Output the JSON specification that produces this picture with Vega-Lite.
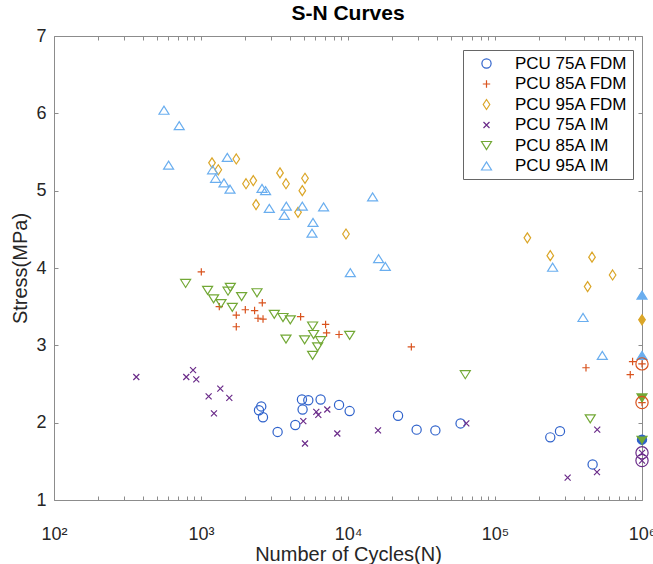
{
  "$schema": "https://vega.github.io/schema/vega-lite/v6.json",
  "autosize": {"type": "none"},
  "width": 588,
  "height": 464,
  "padding": {"left": 54, "top": 36, "right": 11, "bottom": 64},
  "background": "white",
  "title": {"text": "S-N Curves", "fontSize": 21, "fontWeight": "bold", "font": "Liberation Sans", "color": "#000000", "offset": 3, "anchor": "middle"},
  "config": {
    "view": {"stroke": null},
    "font": "Liberation Sans",
    "axis": {
      "domainColor": "#8c8c8c", "tickColor": "#8c8c8c", "labelColor": "#262626", "titleColor": "#262626",
      "labelFont": "Liberation Sans", "titleFont": "Liberation Sans", "labelFontSize": 18, "titleFontSize": 20,
      "titleFontWeight": "normal", "grid": false, "tickSize": -4, "domainWidth": 1, "tickWidth": 1
    }
  },
  "data": {"values": [
    {"s":"PCU 75A FDM","n":2570,"v":2.21,"r":0},
    {"s":"PCU 75A FDM","n":2480,"v":2.16,"r":0},
    {"s":"PCU 75A FDM","n":2640,"v":2.07,"r":0},
    {"s":"PCU 75A FDM","n":3320,"v":1.88,"r":0},
    {"s":"PCU 75A FDM","n":4380,"v":1.97,"r":0},
    {"s":"PCU 75A FDM","n":4860,"v":2.30,"r":0},
    {"s":"PCU 75A FDM","n":4910,"v":2.17,"r":0},
    {"s":"PCU 75A FDM","n":5370,"v":2.29,"r":0},
    {"s":"PCU 75A FDM","n":6510,"v":2.30,"r":0},
    {"s":"PCU 75A FDM","n":8690,"v":2.23,"r":0},
    {"s":"PCU 75A FDM","n":10260,"v":2.15,"r":0},
    {"s":"PCU 75A FDM","n":21900,"v":2.09,"r":0},
    {"s":"PCU 75A FDM","n":29300,"v":1.91,"r":0},
    {"s":"PCU 75A FDM","n":39300,"v":1.90,"r":0},
    {"s":"PCU 75A FDM","n":58300,"v":1.99,"r":0},
    {"s":"PCU 75A FDM","n":237700,"v":1.81,"r":0},
    {"s":"PCU 75A FDM","n":276700,"v":1.89,"r":0},
    {"s":"PCU 75A FDM","n":461300,"v":1.46,"r":0},
    {"s":"PCU 75A FDM","n":1000000,"v":1.78,"r":1},
    {"s":"PCU 85A FDM","n":1005,"v":3.95,"r":0},
    {"s":"PCU 85A FDM","n":1332,"v":3.50,"r":0},
    {"s":"PCU 85A FDM","n":1738,"v":3.39,"r":0},
    {"s":"PCU 85A FDM","n":1738,"v":3.24,"r":0},
    {"s":"PCU 85A FDM","n":2002,"v":3.46,"r":0},
    {"s":"PCU 85A FDM","n":2315,"v":3.45,"r":0},
    {"s":"PCU 85A FDM","n":2442,"v":3.35,"r":0},
    {"s":"PCU 85A FDM","n":2612,"v":3.55,"r":0},
    {"s":"PCU 85A FDM","n":2642,"v":3.34,"r":0},
    {"s":"PCU 85A FDM","n":4760,"v":3.37,"r":0},
    {"s":"PCU 85A FDM","n":7040,"v":3.27,"r":0},
    {"s":"PCU 85A FDM","n":7150,"v":3.16,"r":0},
    {"s":"PCU 85A FDM","n":8690,"v":3.14,"r":0},
    {"s":"PCU 85A FDM","n":26970,"v":2.98,"r":0},
    {"s":"PCU 85A FDM","n":415900,"v":2.71,"r":0},
    {"s":"PCU 85A FDM","n":832000,"v":2.62,"r":0},
    {"s":"PCU 85A FDM","n":863000,"v":2.79,"r":0},
    {"s":"PCU 85A FDM","n":1000000,"v":2.76,"r":1},
    {"s":"PCU 85A FDM","n":1000000,"v":2.26,"r":1},
    {"s":"PCU 95A FDM","n":1188,"v":5.36,"r":0},
    {"s":"PCU 95A FDM","n":1311,"v":5.27,"r":0},
    {"s":"PCU 95A FDM","n":1738,"v":5.41,"r":0},
    {"s":"PCU 95A FDM","n":2024,"v":5.09,"r":0},
    {"s":"PCU 95A FDM","n":2268,"v":5.13,"r":0},
    {"s":"PCU 95A FDM","n":2368,"v":4.82,"r":0},
    {"s":"PCU 95A FDM","n":3447,"v":5.23,"r":0},
    {"s":"PCU 95A FDM","n":3786,"v":5.09,"r":0},
    {"s":"PCU 95A FDM","n":5099,"v":5.16,"r":0},
    {"s":"PCU 95A FDM","n":4888,"v":5.00,"r":0},
    {"s":"PCU 95A FDM","n":4570,"v":4.72,"r":0},
    {"s":"PCU 95A FDM","n":9690,"v":4.44,"r":0},
    {"s":"PCU 95A FDM","n":166000,"v":4.39,"r":0},
    {"s":"PCU 95A FDM","n":237700,"v":4.16,"r":0},
    {"s":"PCU 95A FDM","n":457000,"v":4.14,"r":0},
    {"s":"PCU 95A FDM","n":631000,"v":3.91,"r":0},
    {"s":"PCU 95A FDM","n":426600,"v":3.76,"r":0},
    {"s":"PCU 95A FDM","n":1000000,"v":3.33,"r":1},
    {"s":"PCU 75A IM","n":363,"v":2.59,"r":0},
    {"s":"PCU 75A IM","n":794,"v":2.59,"r":0},
    {"s":"PCU 75A IM","n":883,"v":2.68,"r":0},
    {"s":"PCU 75A IM","n":929,"v":2.56,"r":0},
    {"s":"PCU 75A IM","n":1127,"v":2.34,"r":0},
    {"s":"PCU 75A IM","n":1225,"v":2.12,"r":0},
    {"s":"PCU 75A IM","n":1353,"v":2.44,"r":0},
    {"s":"PCU 75A IM","n":1558,"v":2.32,"r":0},
    {"s":"PCU 75A IM","n":4966,"v":2.02,"r":0},
    {"s":"PCU 75A IM","n":5099,"v":1.73,"r":0},
    {"s":"PCU 75A IM","n":6087,"v":2.14,"r":0},
    {"s":"PCU 75A IM","n":6281,"v":2.10,"r":0},
    {"s":"PCU 75A IM","n":7230,"v":2.17,"r":0},
    {"s":"PCU 75A IM","n":8459,"v":1.86,"r":0},
    {"s":"PCU 75A IM","n":16000,"v":1.90,"r":0},
    {"s":"PCU 75A IM","n":63800,"v":1.99,"r":0},
    {"s":"PCU 75A IM","n":496000,"v":1.91,"r":0},
    {"s":"PCU 75A IM","n":312000,"v":1.29,"r":0},
    {"s":"PCU 75A IM","n":494000,"v":1.36,"r":0},
    {"s":"PCU 75A IM","n":1000000,"v":1.61,"r":1},
    {"s":"PCU 75A IM","n":1000000,"v":1.51,"r":1},
    {"s":"PCU 85A IM","n":786,"v":3.80,"r":0},
    {"s":"PCU 85A IM","n":1109,"v":3.71,"r":0},
    {"s":"PCU 85A IM","n":1218,"v":3.60,"r":0},
    {"s":"PCU 85A IM","n":1368,"v":3.54,"r":0},
    {"s":"PCU 85A IM","n":1527,"v":3.70,"r":0},
    {"s":"PCU 85A IM","n":1583,"v":3.75,"r":0},
    {"s":"PCU 85A IM","n":1633,"v":3.49,"r":0},
    {"s":"PCU 85A IM","n":1889,"v":3.63,"r":0},
    {"s":"PCU 85A IM","n":2404,"v":3.68,"r":0},
    {"s":"PCU 85A IM","n":3152,"v":3.40,"r":0},
    {"s":"PCU 85A IM","n":3612,"v":3.36,"r":0},
    {"s":"PCU 85A IM","n":4050,"v":3.33,"r":0},
    {"s":"PCU 85A IM","n":3786,"v":3.08,"r":0},
    {"s":"PCU 85A IM","n":5070,"v":3.07,"r":0},
    {"s":"PCU 85A IM","n":5745,"v":3.25,"r":0},
    {"s":"PCU 85A IM","n":5834,"v":3.14,"r":0},
    {"s":"PCU 85A IM","n":6513,"v":3.06,"r":0},
    {"s":"PCU 85A IM","n":6213,"v":2.98,"r":0},
    {"s":"PCU 85A IM","n":5745,"v":2.87,"r":0},
    {"s":"PCU 85A IM","n":10260,"v":3.13,"r":0},
    {"s":"PCU 85A IM","n":62800,"v":2.62,"r":0},
    {"s":"PCU 85A IM","n":444600,"v":2.05,"r":0},
    {"s":"PCU 85A IM","n":1000000,"v":2.32,"r":1},
    {"s":"PCU 85A IM","n":1000000,"v":1.77,"r":1},
    {"s":"PCU 95A IM","n":560,"v":6.04,"r":0},
    {"s":"PCU 95A IM","n":711,"v":5.84,"r":0},
    {"s":"PCU 95A IM","n":602,"v":5.33,"r":0},
    {"s":"PCU 95A IM","n":1510,"v":5.43,"r":0},
    {"s":"PCU 95A IM","n":1199,"v":5.27,"r":0},
    {"s":"PCU 95A IM","n":1257,"v":5.16,"r":0},
    {"s":"PCU 95A IM","n":1433,"v":5.10,"r":0},
    {"s":"PCU 95A IM","n":1575,"v":5.02,"r":0},
    {"s":"PCU 95A IM","n":2600,"v":5.03,"r":0},
    {"s":"PCU 95A IM","n":2750,"v":5.00,"r":0},
    {"s":"PCU 95A IM","n":2915,"v":4.77,"r":0},
    {"s":"PCU 95A IM","n":3805,"v":4.80,"r":0},
    {"s":"PCU 95A IM","n":3686,"v":4.68,"r":0},
    {"s":"PCU 95A IM","n":4888,"v":4.80,"r":0},
    {"s":"PCU 95A IM","n":6823,"v":4.79,"r":0},
    {"s":"PCU 95A IM","n":5780,"v":4.59,"r":0},
    {"s":"PCU 95A IM","n":5690,"v":4.45,"r":0},
    {"s":"PCU 95A IM","n":14700,"v":4.92,"r":0},
    {"s":"PCU 95A IM","n":10370,"v":3.94,"r":0},
    {"s":"PCU 95A IM","n":16150,"v":4.12,"r":0},
    {"s":"PCU 95A IM","n":17940,"v":4.02,"r":0},
    {"s":"PCU 95A IM","n":246600,"v":4.01,"r":0},
    {"s":"PCU 95A IM","n":397000,"v":3.36,"r":0},
    {"s":"PCU 95A IM","n":537000,"v":2.87,"r":0},
    {"s":"PCU 95A IM","n":1000000,"v":3.65,"r":1},
    {"s":"PCU 95A IM","n":1000000,"v":2.87,"r":1}
  ]},
  "layer": [
    {
      "mark": {"type": "point", "filled": false, "size": 100, "strokeWidth": 1.2, "opacity": 1},
      "encoding": {
        "x": {"field": "n", "type": "quantitative",
          "scale": {"type": "log", "domain": [100, 1000000], "nice": false},
          "axis": {"orient": "bottom", "values": [100,200,300,400,500,600,700,800,900,1000,2000,3000,4000,5000,6000,7000,8000,9000,10000,20000,30000,40000,50000,60000,70000,80000,90000,100000,200000,300000,400000,500000,600000,700000,800000,900000,1000000],
            "labelExpr": "datum.value==100?'10²':datum.value==1000?'10³':datum.value==10000?'10⁴':datum.value==100000?'10⁵':datum.value==1000000?'10⁶':''",
            "labelPadding": 29, "labelOverlap": false, "labelFlush": false, "labelBound": false,
            "title": "Number of Cycles(N)", "titleY": 60, "titleBaseline": "alphabetic"}},
        "y": {"field": "v", "type": "quantitative",
          "scale": {"domain": [1, 7], "nice": false, "zero": false},
          "axis": {"orient": "left", "values": [1,2,3,4,5,6,7], "format": "d", "labelPadding": 12,
            "title": "Stress(MPa)", "titleX": -34, "titleY": 232, "titleBaseline": "middle", "titleAngle": -90}},
        "color": {"field": "s", "type": "nominal",
          "scale": {"domain": ["PCU 75A FDM","PCU 85A FDM","PCU 95A FDM","PCU 75A IM","PCU 85A IM","PCU 95A IM"],
                    "range": ["#2F62CB","#D9531E","#DBA628","#6B2C8A","#72A835","#6AAEEF"]},
          "legend": {"orient": "none", "legendX": 409, "legendY": 14, "title": null,
            "strokeColor": "#666666", "fillColor": "white", "padding": 5, "symbolOffset": 10, "labelOffset": 20,
            "labelFontSize": 17, "labelFont": "Liberation Sans", "labelColor": "#000000", "rowPadding": 2.5,
            "symbolSize": 100, "symbolStrokeWidth": 1.2, "cornerRadius": 0, "labelLimit": 300}},
        "shape": {"field": "s", "type": "nominal",
          "scale": {"domain": ["PCU 75A FDM","PCU 85A FDM","PCU 95A FDM","PCU 75A IM","PCU 85A IM","PCU 95A IM"],
                    "range": ["M0.92,0A0.92,0.92,0,1,1,-0.92,0A0.92,0.92,0,1,1,0.92,0Z",
                              "M-0.74,0H0.74M0,-0.74V0.74",
                              "M0,-1L0.66,0L0,1L-0.66,0Z",
                              "M-0.6,-0.6L0.6,0.6M-0.6,0.6L0.6,-0.6",
                              "M-1,-0.8L1,-0.8L0,0.8Z",
                              "M-1,0.8L1,0.8L0,-0.8Z"]}}
      }
    },
    {
      "transform": [{"filter": "datum.r==1 && datum.s=='PCU 75A FDM'"}],
      "mark": {"type": "point", "filled": true, "size": 100, "opacity": 1, "color": "#2F62CB", "shape": "M0.92,0A0.92,0.92,0,1,1,-0.92,0A0.92,0.92,0,1,1,0.92,0Z"},
      "encoding": {
        "x": {"field": "n", "type": "quantitative", "axis": null},
        "y": {"field": "v", "type": "quantitative", "axis": null}
      }
    },
    {
      "transform": [{"filter": "datum.r==1 && datum.s=='PCU 95A FDM'"}],
      "mark": {"type": "point", "filled": true, "size": 100, "opacity": 1, "color": "#DBA628", "shape": "M0,-1L0.66,0L0,1L-0.66,0Z"},
      "encoding": {
        "x": {"field": "n", "type": "quantitative", "axis": null},
        "y": {"field": "v", "type": "quantitative", "axis": null}
      }
    },
    {
      "transform": [{"filter": "datum.r==1 && datum.s=='PCU 85A IM'"}],
      "mark": {"type": "point", "filled": true, "size": 100, "opacity": 1, "color": "#72A835", "shape": "M-1,-0.8L1,-0.8L0,0.8Z"},
      "encoding": {
        "x": {"field": "n", "type": "quantitative", "axis": null},
        "y": {"field": "v", "type": "quantitative", "axis": null}
      }
    },
    {
      "transform": [{"filter": "datum.r==1 && datum.s=='PCU 95A IM'"}],
      "mark": {"type": "point", "filled": true, "size": 100, "opacity": 1, "color": "#6AAEEF", "shape": "M-1,0.8L1,0.8L0,-0.8Z"},
      "encoding": {
        "x": {"field": "n", "type": "quantitative", "axis": null},
        "y": {"field": "v", "type": "quantitative", "axis": null}
      }
    },
    {
      "transform": [{"filter": "datum.r==1 && datum.s=='PCU 75A IM'"}],
      "mark": {"type": "point", "filled": false, "size": 150, "strokeWidth": 1.2, "shape": "circle", "opacity": 1, "color": "#6B2C8A"},
      "encoding": {
        "x": {"field": "n", "type": "quantitative", "axis": null},
        "y": {"field": "v", "type": "quantitative", "axis": null}
      }
    },
    {
      "transform": [{"filter": "datum.r==1 && datum.s=='PCU 85A FDM'"}],
      "mark": {"type": "point", "filled": false, "size": 150, "strokeWidth": 1.2, "shape": "circle", "opacity": 1, "color": "#D9531E"},
      "encoding": {
        "x": {"field": "n", "type": "quantitative",
          "axis": {"orient": "top", "labels": false, "title": null, "values": [100,200,300,400,500,600,700,800,900,1000,2000,3000,4000,5000,6000,7000,8000,9000,10000,20000,30000,40000,50000,60000,70000,80000,90000,100000,200000,300000,400000,500000,600000,700000,800000,900000,1000000]}},
        "y": {"field": "v", "type": "quantitative",
          "axis": {"orient": "right", "labels": false, "title": null, "values": [1,2,3,4,5,6,7]}}
      }
    }
  ],
  "resolve": {"axis": {"x": "independent", "y": "independent"}}
}
